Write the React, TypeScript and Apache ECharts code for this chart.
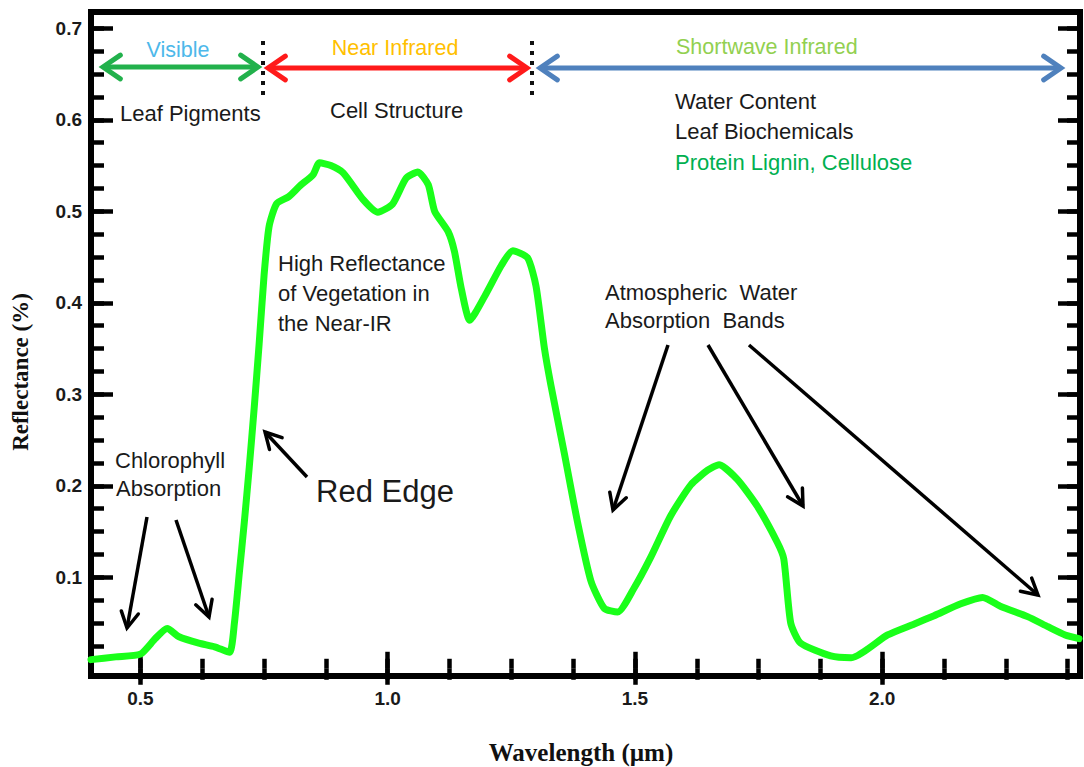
import React, { useEffect, useRef } from "react";
import * as echarts from "echarts";

const wavelength = [0.4, 0.45, 0.5, 0.53, 0.554, 0.578, 0.618, 0.65, 0.68, 0.69, 0.7, 0.71, 0.72, 0.73, 0.74, 0.75, 0.76, 0.775, 0.8, 0.823, 0.849, 0.862, 0.885, 0.91, 0.95, 0.98, 1.01, 1.037, 1.061, 1.082, 1.095, 1.122, 1.135, 1.149, 1.166, 1.196, 1.23, 1.253, 1.283, 1.3, 1.317, 1.33, 1.357, 1.384, 1.411, 1.438, 1.465, 1.498, 1.532, 1.572, 1.613, 1.647, 1.67, 1.707, 1.747, 1.788, 1.801, 1.815, 1.835, 1.896, 1.937, 2.011, 2.065, 2.105, 2.159, 2.203, 2.24, 2.294, 2.335, 2.37, 2.398];
const reflectance = [0.01, 0.013, 0.016, 0.033, 0.044, 0.035, 0.028, 0.024, 0.018, 0.05, 0.105, 0.16, 0.22, 0.285, 0.355, 0.43, 0.483, 0.508, 0.516, 0.528, 0.54, 0.553, 0.55, 0.542, 0.513, 0.499, 0.508, 0.536, 0.543, 0.529, 0.5, 0.478, 0.456, 0.415, 0.381, 0.407, 0.441, 0.457, 0.449, 0.418, 0.35, 0.31, 0.236, 0.16, 0.096, 0.066, 0.062, 0.088, 0.122, 0.167, 0.201, 0.217, 0.223, 0.207, 0.178, 0.138, 0.12, 0.05, 0.028, 0.014, 0.012, 0.037, 0.049, 0.058, 0.071, 0.078, 0.068, 0.057, 0.046, 0.037, 0.033];

const xMajorTicks = [0.5, 1.0, 1.5, 2.0];
const xMinorTicks = [0.5, 0.625, 0.75, 0.875, 1.0, 1.125, 1.25, 1.375, 1.5, 1.625, 1.75, 1.875, 2.0, 2.125, 2.25, 2.375];
const yMajorTicks = [0.1, 0.2, 0.3, 0.4, 0.5, 0.6, 0.7];
const yMinorTicks = [0.025, 0.05, 0.075, 0.1, 0.125, 0.15, 0.175, 0.2, 0.225, 0.25, 0.275, 0.3, 0.325, 0.35, 0.375, 0.4, 0.425, 0.45, 0.475, 0.5, 0.525, 0.55, 0.575, 0.6, 0.625, 0.65, 0.675, 0.7];

const X_MIN = 0.4;
const X_MAX = 2.4;
const Y_MIN = -0.0079;
const Y_MAX = 0.7178;

const SANS = "'Liberation Sans', Arial, sans-serif";
const SERIF = "'Liberation Serif', 'Times New Roman', serif";

function head(x1: number, y1: number, x2: number, y2: number, color: string, width: number, len: number, ang: number) {
  const a = Math.atan2(y2 - y1, x2 - x1);
  const p1 = [x2 - len * Math.cos(a - ang), y2 - len * Math.sin(a - ang)];
  const p2 = [x2 - len * Math.cos(a + ang), y2 - len * Math.sin(a + ang)];
  return {
    type: "polyline",
    shape: { points: [p1, [x2, y2], p2] },
    style: { stroke: color, lineWidth: width, fill: null, lineJoin: "miter", lineCap: "round" },
    silent: true,
  };
}

function arrow(x1: number, y1: number, x2: number, y2: number, color: string, width: number, len = 18, ang = 0.5) {
  return [
    { type: "line", shape: { x1, y1, x2, y2 }, style: { stroke: color, lineWidth: width }, silent: true },
    head(x1, y1, x2, y2, color, width, len, ang),
  ];
}

function dblArrow(x1: number, x2: number, y: number, color: string) {
  return [
    { type: "line", shape: { x1: x1 + 2, y1: y, x2: x2 - 2, y2: y }, style: { stroke: color, lineWidth: 5 }, silent: true },
    head(x2, y, x1, y, color, 5, 21, 0.6),
    head(x1, y, x2, y, color, 5, 21, 0.6),
  ];
}

function txt(x: number, y: number, text: string, fill: string, size = 22, align = "left") {
  return {
    type: "text",
    x,
    y,
    silent: true,
    style: { text, fill, fontSize: size, fontFamily: SANS, textAlign: align, textVerticalAlign: "middle", verticalAlign: "middle" },
  };
}

function dotted(x: number) {
  return {
    type: "line",
    shape: { x1: x, y1: 41, x2: x, y2: 96 },
    style: { stroke: "#111", lineWidth: 4, lineDash: [4, 6] },
    silent: true,
  };
}

export default function App() {
  const ref = useRef<HTMLDivElement>(null);
  useEffect(() => {
    if (!ref.current) return;
    const chart = echarts.init(ref.current, undefined, { renderer: "svg" });
    const data = wavelength.map((w, i) => [w, reflectance[i]]);

    const xBase = (position: string, ticks: number[], len: number, labels: boolean) => ({
      type: "value",
      position,
      min: X_MIN,
      max: X_MAX,
      axisLine: { show: false },
      splitLine: { show: false },
      axisTick: { show: true, inside: true, length: len, customValues: ticks, lineStyle: { color: "#000", width: 4.5 } },
      axisLabel: labels
        ? { show: true, customValues: xMajorTicks, margin: 13, color: "#1a1a1a", fontSize: 19, fontWeight: "bold", fontFamily: SANS, formatter: (v: number) => v.toFixed(1) }
        : { show: false },
    });
    const yBase = (position: string, ticks: number[], len: number, labels: boolean) => ({
      type: "value",
      position,
      min: Y_MIN,
      max: Y_MAX,
      axisLine: { show: false },
      splitLine: { show: false },
      axisTick: { show: true, inside: true, length: len, customValues: ticks, lineStyle: { color: "#000", width: 4.5 } },
      axisLabel: labels
        ? { show: true, customValues: yMajorTicks, margin: 9, color: "#1a1a1a", fontSize: 19, fontWeight: "bold", fontFamily: SANS, formatter: (v: number) => v.toFixed(1) }
        : { show: false },
    });

    const graphics: any[] = [
      ...dblArrow(103, 258, 67, "#22b14c"),
      dotted(263),
      ...dblArrow(268, 527, 68, "#ff1a1a"),
      dotted(532),
      ...dblArrow(540, 1061, 68, "#4f81bd"),
      txt(178, 50, "Visible", "#4db8ea", 21.5, "center"),
      txt(395, 48, "Near Infrared", "#ffc000", 21.5, "center"),
      txt(676, 47, "Shortwave Infrared", "#92d050", 21.5, "left"),
      txt(120, 113, "Leaf Pigments", "#1a1a1a"),
      txt(330, 110, "Cell Structure", "#1a1a1a"),
      txt(675, 101, "Water Content", "#1a1a1a"),
      txt(675, 131, "Leaf Biochemicals", "#1a1a1a"),
      txt(675, 162, "Protein Lignin, Cellulose", "#00b050"),
      txt(278, 263, "High Reflectance", "#1a1a1a"),
      txt(278, 293, "of Vegetation in", "#1a1a1a"),
      txt(278, 323, "the Near-IR", "#1a1a1a"),
      txt(605, 292, "Atmospheric  Water", "#1a1a1a"),
      txt(605, 320, "Absorption  Bands", "#1a1a1a"),
      txt(115, 460, "Chlorophyll", "#1a1a1a"),
      txt(116, 488, "Absorption", "#1a1a1a"),
      txt(316, 491, "Red Edge", "#1a1a1a", 31),
      ...arrow(147, 517, 127, 628, "#000", 3.5),
      ...arrow(176, 520, 209, 617, "#000", 3.5),
      ...arrow(307, 477, 265, 432, "#000", 3.5),
      ...arrow(668, 345, 613, 510, "#000", 3.5),
      ...arrow(708, 345, 803, 506, "#000", 3.5),
      ...arrow(749, 345, 1038, 595, "#000", 3.5),
      {
        type: "text",
        x: 581,
        y: 752,
        silent: true,
        style: { text: "Wavelength (µm)", fill: "#111", fontSize: 25, fontWeight: "bold", fontFamily: SERIF, textAlign: "center", textVerticalAlign: "middle", verticalAlign: "middle" },
      },
      {
        type: "text",
        x: 20,
        y: 372,
        rotation: Math.PI / 2,
        silent: true,
        style: { text: "Reflectance (%)", fill: "#111", fontSize: 23, fontWeight: "bold", fontFamily: SERIF, textAlign: "center", textVerticalAlign: "middle", verticalAlign: "middle" },
      },
    ];

    chart.setOption({
      animation: false,
      backgroundColor: "#fff",
      grid: { left: 91, right: 4, top: 12, bottom: 91, show: true, borderColor: "#000", borderWidth: 6, backgroundColor: "transparent" },
      xAxis: [
        xBase("bottom", xMinorTicks, 10, true),
        xBase("bottom", xMajorTicks, 17, false),
        xBase("top", xMinorTicks, 11, false),
        xBase("top", xMajorTicks, 16, false),
      ],
      yAxis: [
        yBase("left", yMinorTicks, 13, true),
        yBase("left", yMajorTicks, 22, false),
        yBase("right", yMinorTicks, 13, false),
        yBase("right", yMajorTicks, 22, false),
      ],
      series: [
        {
          type: "line",
          xAxisIndex: 0,
          yAxisIndex: 0,
          data,
          showSymbol: false,
          smooth: 0.2,
          lineStyle: { color: "#1aff1a", width: 7, cap: "round", join: "round" },
          z: 5,
        },
      ],
      graphic: graphics,
    });
    return () => chart.dispose();
  }, []);
  return <div ref={ref} style={{ position: "fixed", left: 0, top: 0, width: 1084, height: 767 }} />;
}
